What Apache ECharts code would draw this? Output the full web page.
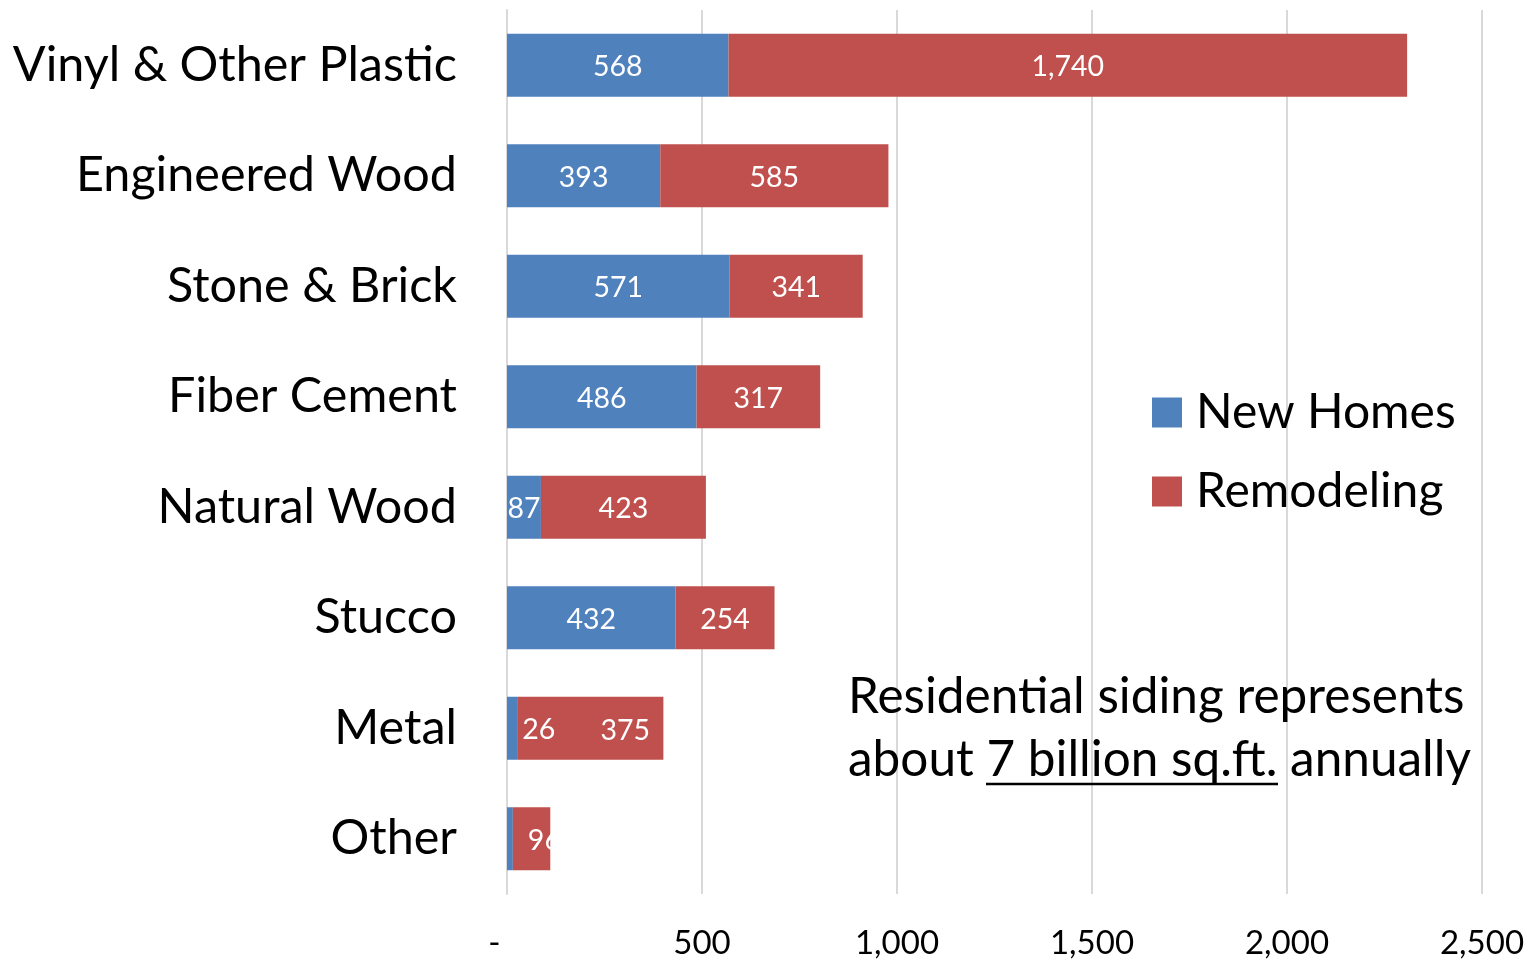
<!DOCTYPE html>
<html><head><meta charset="utf-8">
<script src="https://cdn.jsdelivr.net/npm/echarts@6/dist/echarts.min.js"></script>
<style>html,body{margin:0;padding:0;background:#fff}#c{width:1540px;height:960px}</style>
</head><body><div id="c"></div>
<script>
const categories = ['Vinyl & Other Plastic','Engineered Wood','Stone & Brick','Fiber Cement','Natural Wood','Stucco','Metal','Other'];
const newHomes = [568, 393, 571, 486, 87, 432, 26, 15];
const remodeling = [1740, 585, 341, 317, 423, 254, 375, 96];
const xTicks = [0, 500, 1000, 1500, 2000, 2500];
const seriesNames = ['New Homes', 'Remodeling'];

const FONT = 'Lato';
const fmt = v => v.toLocaleString('en-US');

const chart = echarts.init(document.getElementById('c'));
const newData = newHomes.map((v, i) => {
  const d = {value: v};
  if (categories[i] === 'Metal') d.label = {position: 'right', distance: 5};
  if (categories[i] === 'Other') d.label = {show: false};
  return d;
});
const remData = remodeling.map((v, i) => {
  const d = {value: v};
  if (categories[i] === 'Other') d.label = {position: 'insideLeft', distance: 15};
  if (categories[i] === 'Metal') d.label = {offset: [35, 3]};
  return d;
});
const labelStyle = {show: true, position: 'inside', color: '#fff', fontSize: 28.5, fontFamily: FONT, offset: [0, 2], formatter: p => fmt(p.value)};
chart.setOption({
  animation: false,
  textStyle: {fontFamily: FONT},
  grid: {left: 507, right: 58, top: 10, bottom: 65, containLabel: false},
  legend: {
    orient: 'vertical', left: 1152, top: 388, padding: 0,
    itemWidth: 30, itemHeight: 30, itemGap: 30, itemTextGap: 14,
    icon: 'rect',
    textStyle: {fontSize: 48, color: '#000', fontFamily: FONT, lineHeight: 49, padding: [0, 0, 0, 9]},
    data: seriesNames
  },
  xAxis: {
    type: 'value', min: 0, max: 2500, interval: 500,
    axisLine: {show: false}, axisTick: {show: false},
    splitLine: {show: true, lineStyle: {color: '#d9d9d9', width: 2}},
    axisLabel: {
      fontSize: 33, color: '#000', margin: 33, fontFamily: FONT,
      formatter: v => xTicks.includes(v) ? (v === 0 ? '-   ' : fmt(v)) : ''
    }
  },
  yAxis: {
    type: 'category', inverse: true, data: categories,
    axisLine: {show: true, lineStyle: {color: '#d9d9d9', width: 2}},
    axisTick: {show: false},
    axisLabel: {fontSize: 48.5, color: '#000', margin: 50, fontFamily: FONT}
  },
  series: [
    {name: seriesNames[0], type: 'bar', stack: 'a', barWidth: 63, data: newData,
     itemStyle: {color: '#4f81bd'}, label: labelStyle},
    {name: seriesNames[1], type: 'bar', stack: 'a', barWidth: 63, data: remData,
     itemStyle: {color: '#c0504d'}, label: labelStyle}
  ],
  graphic: [
    {type: 'text', x: 848, y: 697, z: 10,
     style: {text: 'Residential siding represents', fontSize: 49.5, fontFamily: FONT, fill: '#000', verticalAlign: 'middle'}},
    {type: 'text', x: 848, y: 760, z: 10,
     style: {text: 'about 7 billion sq.ft. annually', fontSize: 49.5, fontFamily: FONT, fill: '#000', verticalAlign: 'middle'}},
    {type: 'line', z: 10, shape: {x1: 986, y1: 784, x2: 1278, y2: 784}, style: {stroke: '#000', lineWidth: 2.5}}
  ]
});
</script></body></html>
